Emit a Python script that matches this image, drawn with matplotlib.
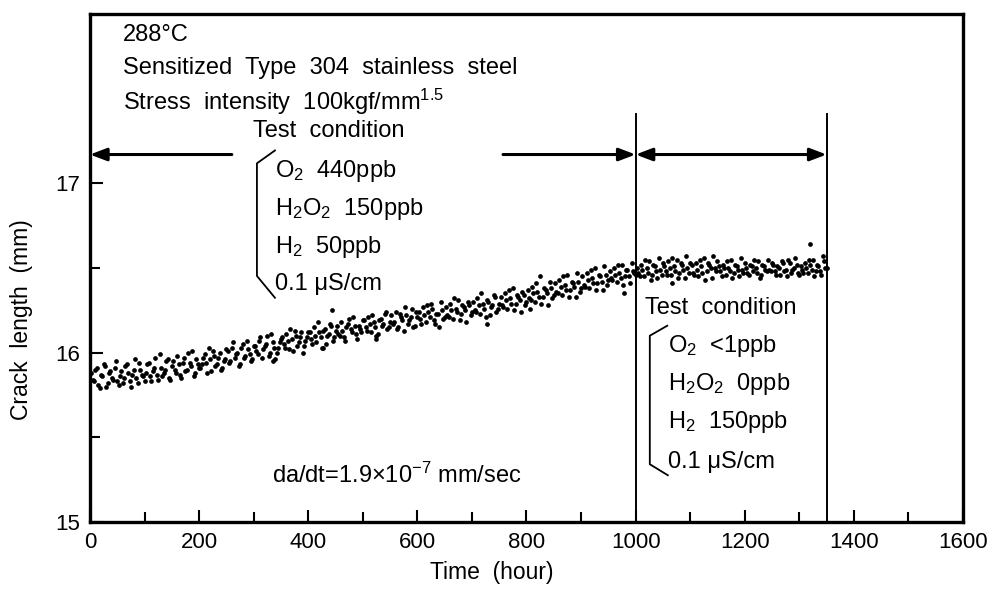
import numpy as np
import matplotlib
matplotlib.use("Agg")
import matplotlib.pyplot as plt
from matplotlib.ticker import MultipleLocator, FixedLocator

plt.rcParams['font.family'] = ['Liberation Sans', 'DejaVu Sans']
plt.rcParams['mathtext.fontset'] = 'custom'
plt.rcParams['mathtext.rm'] = 'Liberation Sans'
plt.rcParams['mathtext.it'] = 'Liberation Sans:italic'

# crack length readings, one every 5 hours (5 .. 1350 h)
hours = np.arange(5, 1351, 5)
length = [
    15.84, 15.90, 15.81, 15.87, 15.93, 15.80, 15.88, 15.85, 15.91, 15.83,
    15.86, 15.82, 15.92, 15.88, 15.80, 15.90, 15.85, 15.94, 15.87, 15.83,
    15.93, 15.86, 15.89, 15.97, 15.84, 15.91, 15.88, 15.95, 15.85, 15.92,
    15.90, 15.98, 15.87, 15.94, 15.89, 16.00, 15.92, 15.86, 15.96, 15.91,
    15.93, 15.99, 15.88, 15.96, 16.01, 15.92, 15.97, 15.90, 15.95, 16.02,
    15.94, 16.03, 15.97, 16.00, 15.93, 16.05, 15.98, 16.02, 15.95, 16.04,
    16.01, 16.07, 15.97, 16.04, 16.10, 16.00, 16.06, 15.96, 16.03, 16.08,
    16.05, 16.11, 16.02, 16.08, 16.13, 16.04, 16.09, 16.00, 16.07, 16.12,
    16.08, 16.15, 16.06, 16.12, 16.03, 16.14, 16.10, 16.17, 16.07, 16.13,
    16.11, 16.18, 16.09, 16.15, 16.20, 16.12, 16.16, 16.08, 16.14, 16.19,
    16.15, 16.21, 16.12, 16.18, 16.10, 16.19, 16.16, 16.23, 16.14, 16.18,
    16.17, 16.24, 16.15, 16.21, 16.13, 16.22, 16.19, 16.26, 16.16, 16.21,
    16.20, 16.27, 16.18, 16.24, 16.29, 16.19, 16.23, 16.15, 16.25, 16.21,
    16.22, 16.29, 16.20, 16.26, 16.31, 16.23, 16.27, 16.18, 16.28, 16.24,
    16.25, 16.32, 16.23, 16.29, 16.21, 16.30, 16.27, 16.34, 16.24, 16.29,
    16.28, 16.35, 16.26, 16.32, 16.38, 16.29, 16.33, 16.24, 16.34, 16.30,
    16.32, 16.39, 16.30, 16.36, 16.45, 16.33, 16.37, 16.28, 16.38, 16.34,
    16.36, 16.43, 16.34, 16.40, 16.46, 16.37, 16.41, 16.33, 16.42, 16.38,
    16.40, 16.47, 16.38, 16.44, 16.50, 16.41, 16.45, 16.37, 16.46, 16.43,
    16.44, 16.50, 16.42, 16.47, 16.52, 16.45, 16.49, 16.41, 16.48, 16.46,
    16.47, 16.52, 16.45, 16.50, 16.54, 16.46, 16.51, 16.44, 16.49, 16.53,
    16.48, 16.54, 16.46, 16.51, 16.55, 16.47, 16.52, 16.44, 16.50, 16.53,
    16.47, 16.53, 16.45, 16.51, 16.56, 16.48, 16.52, 16.44, 16.50, 16.54,
    16.48, 16.52, 16.46, 16.50, 16.55, 16.47, 16.51, 16.45, 16.49, 16.53,
    16.47, 16.52, 16.48, 16.50, 16.54, 16.46, 16.51, 16.48, 16.49, 16.53,
    16.48, 16.51, 16.46, 16.53, 16.49, 16.55, 16.47, 16.50, 16.52, 16.46,
    16.49, 16.53, 16.47, 16.52, 16.55, 16.48, 16.51, 16.46, 16.54, 16.50,
]

# readings taken half-way between the ones above (2.5 .. 1347.5 h)
hours_b = np.arange(2.5, 1350, 5)
length_b = [
    15.88, 15.83, 15.91, 15.79, 15.86, 15.92, 15.82, 15.89, 15.84, 15.95,
    15.81, 15.89, 15.85, 15.93, 15.83, 15.87, 15.96, 15.82, 15.90, 15.86,
    15.88, 15.94, 15.83, 15.91, 15.87, 15.99, 15.86, 15.90, 15.96, 15.84,
    15.95, 15.88, 15.93, 15.85, 15.97, 15.90, 15.94, 16.01, 15.88, 15.93,
    15.91, 15.97, 15.94, 16.03, 15.89, 15.98, 15.93, 16.00, 15.91, 15.96,
    16.01, 15.95, 16.06, 15.99, 15.92, 16.03, 15.97, 16.07, 15.99, 15.96,
    16.04, 15.99, 16.09, 16.02, 16.05, 15.98, 16.11, 16.03, 16.00, 16.06,
    16.09, 16.03, 16.07, 16.14, 16.01, 16.10, 16.06, 16.12, 16.04, 16.09,
    16.12, 16.05, 16.10, 16.18, 16.09, 16.13, 16.05, 16.11, 16.16, 16.09,
    16.16, 16.10, 16.13, 16.07, 16.17, 16.14, 16.21, 16.11, 16.16, 16.12,
    16.19, 16.13, 16.17, 16.22, 16.15, 16.11, 16.20, 16.17, 16.24, 16.15,
    16.22, 16.18, 16.14, 16.23, 16.19, 16.27, 16.17, 16.21, 16.15, 16.24,
    16.24, 16.17, 16.22, 16.28, 16.21, 16.26, 16.17, 16.23, 16.30, 16.20,
    16.27, 16.21, 16.25, 16.32, 16.24, 16.19, 16.28, 16.25, 16.30, 16.22,
    16.30, 16.24, 16.28, 16.35, 16.26, 16.31, 16.22, 16.28, 16.33, 16.26,
    16.33, 16.27, 16.31, 16.37, 16.29, 16.25, 16.34, 16.31, 16.36, 16.28,
    16.37, 16.31, 16.35, 16.41, 16.33, 16.29, 16.38, 16.35, 16.42, 16.32,
    16.41, 16.35, 16.39, 16.45, 16.37, 16.33, 16.42, 16.39, 16.47, 16.36,
    16.45, 16.39, 16.43, 16.49, 16.41, 16.37, 16.46, 16.42, 16.51, 16.40,
    16.48, 16.43, 16.46, 16.52, 16.44, 16.40, 16.49, 16.45, 16.53, 16.47,
    16.50, 16.45, 16.49, 16.55, 16.47, 16.43, 16.52, 16.48, 16.56, 16.46,
    16.51, 16.46, 16.50, 16.56, 16.48, 16.44, 16.53, 16.49, 16.57, 16.47,
    16.52, 16.46, 16.49, 16.55, 16.47, 16.43, 16.53, 16.50, 16.57, 16.48,
    16.51, 16.45, 16.50, 16.54, 16.48, 16.44, 16.52, 16.49, 16.56, 16.47,
    16.50, 16.46, 16.51, 16.55, 16.47, 16.44, 16.52, 16.49, 16.55, 16.48,
    16.52, 16.46, 16.50, 16.54, 16.48, 16.45, 16.53, 16.49, 16.56, 16.47,
    16.51, 16.47, 16.50, 16.55, 16.49, 16.45, 16.52, 16.48, 16.57, 16.50,
]

# scattered stray readings
stray_hours = [336, 427, 443, 525, 727, 806, 979, 1067, 1320]
stray_length = [15.95, 16.03, 16.25, 16.08, 16.17, 16.26, 16.35, 16.41, 16.64]

change_time = 1000
end_time = 1350

fig = plt.figure(figsize=(9.93, 5.90), dpi=100)
ax = fig.add_axes([0.0906, 0.1153, 0.8792, 0.8610])

for xs, ys in [(hours, length), (hours_b, length_b),
               (stray_hours, stray_length)]:
    ax.plot(xs, ys, 'o', ms=3.4, color='black', mec='none')

ax.set_xlim(0, 1600)
ax.set_ylim(15, 18)
ax.xaxis.set_major_locator(MultipleLocator(200))
ax.xaxis.set_minor_locator(MultipleLocator(100))
ax.yaxis.set_major_locator(FixedLocator([15, 16, 17]))
ax.yaxis.set_minor_locator(FixedLocator([15.5, 16.5]))
ax.tick_params(which='major', direction='in', length=9, width=1.5,
               labelsize=16, pad=7)
ax.tick_params(which='minor', direction='in', length=7, width=1.5)
for s in ax.spines.values():
    s.set_linewidth(2.4)

fs = 17
fig.text(22 / 993, 1 - 320 / 590, 'Crack  length  (mm)', rotation=90,
         ha='center', va='center', fontsize=16.5)
fig.text(492 / 993, 1 - 573 / 590, 'Time  (hour)', ha='center', va='center',
         fontsize=16.5)

# vertical markers at condition change and end of test
ax.plot([change_time, change_time], [15, 17.41], color='black', lw=1.4)
ax.plot([end_time, end_time], [15, 17.41], color='black', lw=1.4)

arrow_y = 17.17
ap = dict(arrowstyle='-|>,head_length=1.0,head_width=0.38', color='black',
          lw=2.2, shrinkA=0, shrinkB=0)
ax.annotate('', xy=(0, arrow_y), xytext=(260, arrow_y), arrowprops=ap)
ax.annotate('', xy=(change_time, arrow_y), xytext=(757, arrow_y), arrowprops=ap)
ap2 = dict(ap, arrowstyle='<|-|>,head_length=1.0,head_width=0.38')
ax.annotate('', xy=(end_time, arrow_y), xytext=(change_time, arrow_y),
            arrowprops=ap2)

# header texts
ax.text(60, 17.876, '288°C', fontsize=fs, va='center')
ax.text(60, 17.682, 'Sensitized  Type  304  stainless  steel', fontsize=fs,
        va='center')
ax.text(60, 17.482, r'Stress  intensity  100kgf/mm$^{1.5}$', fontsize=fs,
        va='center')

# first test condition
ax.text(299, 17.306, 'Test  condition', fontsize=fs, va='center')
ax.plot([339, 306, 306, 339], [17.194, 17.118, 16.453, 16.324],
        color='black', lw=1.3)
cond1 = [r'O$_2$  440ppb', r'H$_2$O$_2$  150ppb', r'H$_2$  50ppb',
         '0.1 μS/cm']
for i, t in enumerate(cond1):
    ax.text(339, [17.07, 16.847, 16.624, 16.406][i], t, fontsize=fs,
            va='center')

# second test condition
ax.text(1017, 16.265, 'Test  condition', fontsize=fs, va='center')
ax.plot([1058, 1026, 1026, 1059], [16.159, 16.10, 15.341, 15.276],
        color='black', lw=1.3)
cond2 = [r'O$_2$  <1ppb', r'H$_2$O$_2$  0ppb', r'H$_2$  150ppb',
         '0.1 μS/cm']
for i, t in enumerate(cond2):
    ax.text(1059, [16.04, 15.812, 15.588, 15.353][i], t, fontsize=fs,
            va='center')

ax.text(334, 15.276, r'da/dt=1.9×10$^{-7}$ mm/sec', fontsize=fs, va='center')

fig.savefig('out.png', dpi=100)
